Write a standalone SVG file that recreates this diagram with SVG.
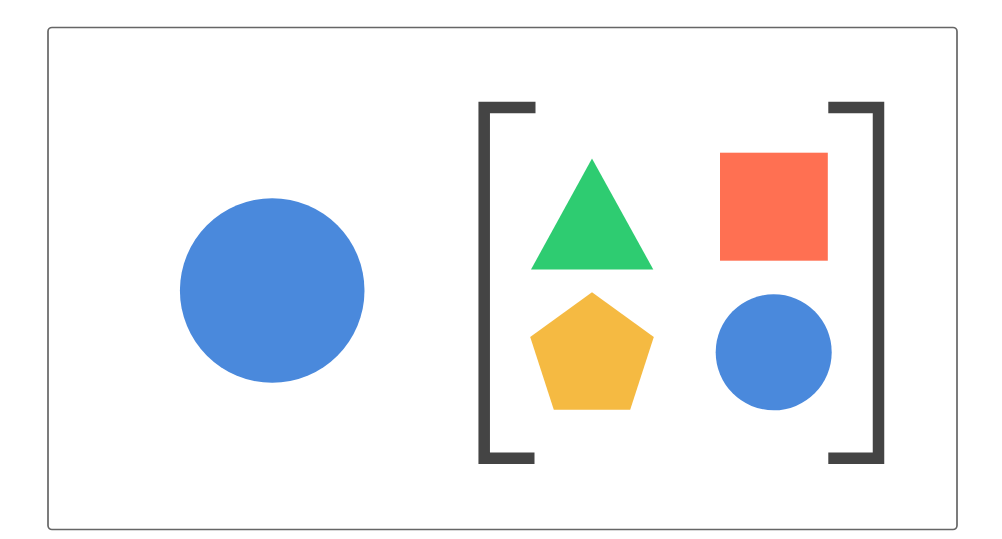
<svg xmlns="http://www.w3.org/2000/svg" width="1002" height="539" viewBox="0 0 1002 539">
<style>
.frame{fill:#fff;stroke:#666;stroke-width:1.7}
.bracket{fill:none;stroke:#444;stroke-width:11.5;stroke-linejoin:miter}
.blue{fill:#4A89DC}
</style>
<rect width="1002" height="539" fill="#fff"/>
<rect class="frame" x="48" y="27.5" width="909" height="502" rx="4"/>
<g id="big-circle"><circle class="blue" cx="272.2" cy="290.5" r="92.3"/></g>
<g id="left-bracket"><path class="bracket" d="M535.5 107.5 H484.2 V458.3 H534.5"/></g>
<g id="right-bracket"><path class="bracket" d="M828.3 107.5 H878.5 V458.3 H828.3"/></g>
<g id="triangle"><polygon fill="#2ECC71" points="592,158.5 531,269.5 653.3,269.5"/></g>
<g id="square"><rect fill="#FF7052" x="720" y="152.7" width="107.8" height="108"/></g>
<g id="pentagon"><polygon fill="#F5BA42" points="592,292.2 653.8,337.1 630.2,409.7 553.8,409.7 530.2,337.1"/></g>
<g id="small-circle"><circle class="blue" cx="773.7" cy="352.3" r="58"/></g>
<g id="connectors"></g>
</svg>
